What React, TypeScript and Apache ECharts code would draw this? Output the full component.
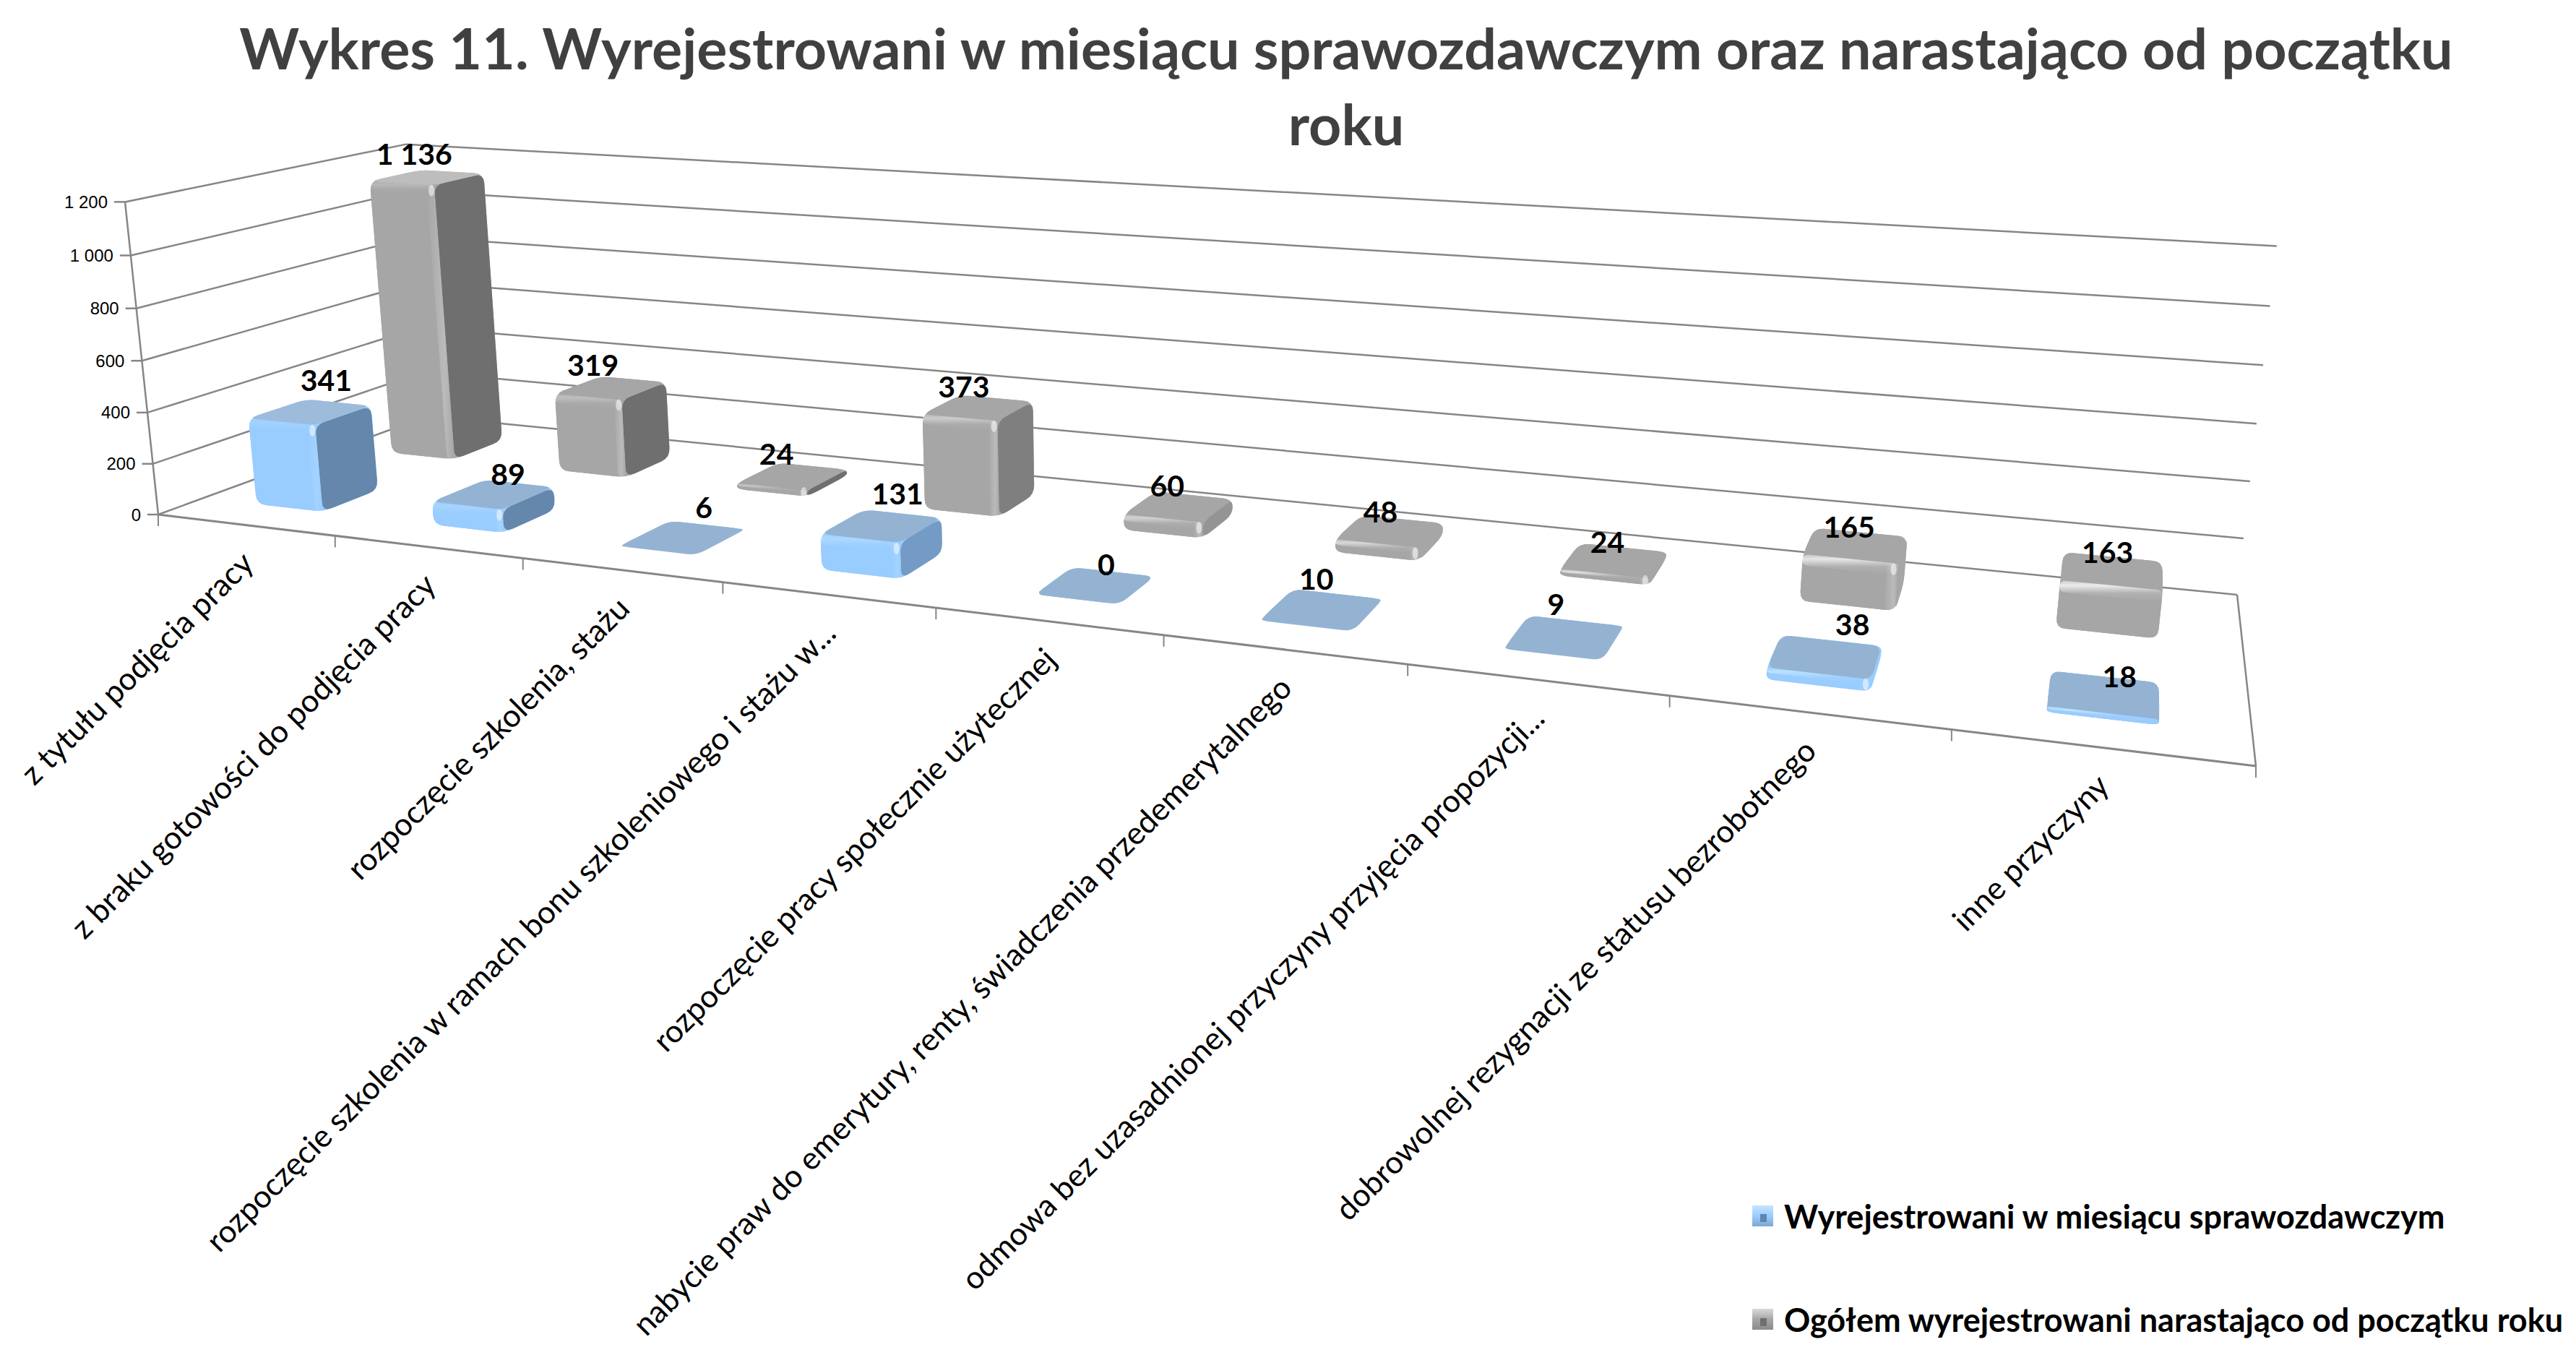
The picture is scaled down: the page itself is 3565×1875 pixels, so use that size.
import React, { useEffect, useRef } from "react";
import * as echarts from "echarts";

const W = 3565;
const H = 1875;

const categories = [
  "z tytułu podjęcia pracy",
  "z braku gotowości do podjęcia pracy",
  "rozpoczęcie szkolenia, stażu",
  "rozpoczęcie szkolenia w ramach bonu szkoleniowego i stażu w...",
  "rozpoczęcie pracy społecznie użytecznej",
  "nabycie praw do emerytury, renty, świadczenia przedemerytalnego",
  "odmowa bez uzasadnionej przyczyny przyjęcia propozycji...",
  "dobrowolnej rezygnacji ze statusu bezrobotnego",
  "inne przyczyny",
];
const monthly = [341, 89, 6, 131, 0, 10, 9, 38, 18];
const cumulative = [1136, 319, 24, 373, 60, 48, 24, 165, 163];
const yTicks = [0, 200, 400, 600, 800, 1000, 1200];
const yTickLabels = ["0", "200", "400", "600", "800", "1 000", "1 200"];
const monthlyName = "Wyrejestrowani w miesiącu sprawozdawczym";
const cumulativeName = "Ogółem wyrejestrowani narastająco od początku roku";
const titleText = "Wykres 11. Wyrejestrowani w miesiącu sprawozdawczym oraz narastająco od początku\nroku";

type Pt = [number, number];
// picture positions of the 3D box corners
const A: Pt = [219, 712];
const B: Pt = [3122, 1060];
const D: Pt = [3096, 823];
const C: Pt = [591, 576];
const E: Pt = [169, 278];
const TBL: Pt = [566, 199];
const TBR: Pt = [3150, 343];

const det = (p: Pt, q: Pt) => p[0] * q[1] - p[1] * q[0];
const sub = (p: Pt, q: Pt): Pt => [p[0] - q[0], p[1] - q[1]];

function makeProjection() {
  const dx1 = sub(B, D);
  const dx2 = sub(C, D);
  const s: Pt = [A[0] - B[0] + D[0] - C[0], A[1] - B[1] + D[1] - C[1]];
  const den = det(dx1, dx2);
  const g = det(s, dx2) / den;
  const h = det(dx1, s) / den;
  const a = B[0] - A[0] + g * B[0];
  const b = C[0] - A[0] + h * C[0];
  const c = A[0];
  const d = B[1] - A[1] + g * B[1];
  const e = C[1] - A[1] + h * C[1];
  const f = A[1];
  // least squares for the height column
  const known: [Pt, number, number][] = [
    [E, 0, 0],
    [TBL, 0, 1],
    [TBR, 1, 1],
  ];
  const M = [
    [0, 0, 0, 0],
    [0, 0, 0, 0],
    [0, 0, 0, 0],
  ];
  const addRow = (r: number[], rhs: number) => {
    for (let i = 0; i < 3; i++) {
      for (let j = 0; j < 3; j++) M[i][j] += r[i] * r[j];
      M[i][3] += r[i] * rhs;
    }
  };
  known.forEach(([p, u, v]) => {
    const w = g * u + h * v + 1;
    addRow([1, 0, -p[0]], p[0] * w - (a * u + b * v + c));
    addRow([0, 1, -p[1]], p[1] * w - (d * u + e * v + f));
  });
  for (let i = 0; i < 3; i++) {
    let piv = i;
    for (let r = i + 1; r < 3; r++) if (Math.abs(M[r][i]) > Math.abs(M[piv][i])) piv = r;
    [M[i], M[piv]] = [M[piv], M[i]];
    for (let r = 0; r < 3; r++) {
      if (r === i) continue;
      const k = M[r][i] / M[i][i];
      for (let col = i; col < 4; col++) M[r][col] -= k * M[i][col];
    }
  }
  const p0 = M[0][3] / M[0][0];
  const p1 = M[1][3] / M[1][1];
  const p2 = M[2][3] / M[2][2];
  return (u: number, y: number, v: number): Pt => {
    const w = g * u + h * v + 1 + p2 * y;
    return [(a * u + b * v + c + p0 * y) / w, (d * u + e * v + f + p1 * y) / w];
  };
}
const project = makeProjection();

function rounded(pts: Pt[], r: number): number[][] {
  const out: number[][] = [];
  const n = pts.length;
  for (let i = 0; i < n; i++) {
    const v = pts[i];
    const pr = pts[(i + n - 1) % n];
    const nx = pts[(i + 1) % n];
    const l1 = Math.hypot(pr[0] - v[0], pr[1] - v[1]) || 1;
    const l2 = Math.hypot(nx[0] - v[0], nx[1] - v[1]) || 1;
    const r1 = Math.min(r, l1 * 0.45);
    const r2 = Math.min(r, l2 * 0.45);
    const s: Pt = [v[0] + ((pr[0] - v[0]) * r1) / l1, v[1] + ((pr[1] - v[1]) * r1) / l1];
    const e: Pt = [v[0] + ((nx[0] - v[0]) * r2) / l2, v[1] + ((nx[1] - v[1]) * r2) / l2];
    for (let k = 0; k <= 4; k++) {
      const t = k / 4;
      const q = 1 - t;
      out.push([q * q * s[0] + 2 * q * t * v[0] + t * t * e[0], q * q * s[1] + 2 * q * t * v[1] + t * t * e[1]]);
    }
  }
  return out;
}

function hull(points: Pt[]): Pt[] {
  const p = [...points].sort((a, b) => a[0] - b[0] || a[1] - b[1]);
  const cross = (o: Pt, a: Pt, b: Pt) => (a[0] - o[0]) * (b[1] - o[1]) - (a[1] - o[1]) * (b[0] - o[0]);
  const lo: Pt[] = [];
  for (const q of p) {
    while (lo.length >= 2 && cross(lo[lo.length - 2], lo[lo.length - 1], q) <= 1e-6) lo.pop();
    lo.push(q);
  }
  const up: Pt[] = [];
  for (const q of [...p].reverse()) {
    while (up.length >= 2 && cross(up[up.length - 2], up[up.length - 1], q) <= 1e-6) up.pop();
    up.push(q);
  }
  return lo.slice(0, -1).concat(up.slice(0, -1));
}

const grad = (x2: number, y2: number, stops: [number, string][]) =>
  new echarts.graphic.LinearGradient(0, 0, x2, y2, stops.map(([offset, color]) => ({ offset, color })));

const poly = (points: number[][], fill: any, z2 = 0) => ({
  type: "polygon",
  shape: { points },
  style: { fill, stroke: "none" },
  z2,
  silent: true,
});

const hexRgb = (h: string) => [1, 3, 5].map((k) => parseInt(h.slice(k, k + 2), 16));
const mix = (p: string, q: string, t: number) => {
  const a = hexRgb(p);
  const b = hexRgb(q);
  return `rgb(${a.map((v, i) => Math.round(v + (b[i] - v) * t)).join(",")})`;
};

type Palette = {
  front: string;
  top: string;
  topFirst: string;
  side: string;
  lightRgb: string;
  labelDx: number[];
  labelDy: number[];
  z0: number;
  z1: number;
};
const bluePalette: Palette = {
  front: "#99CCFF",
  top: "#94B3D3",
  topFirst: "#9DBBDA",
  side: "#6587AC",
  lightRgb: "190,228,255",
  labelDx: [22, 20, 29, 22, 15, -8, -12, 38, 22],
  labelDy: [-45, -29, -41, -45, -29, -41, -45, -45, -25],
  z0: 0.15,
  z1: 0.35,
};
const greyPalette: Palette = {
  front: "#A6A6A6",
  top: "#A6A6A6",
  topFirst: "#BDBDBD",
  side: "#6F6F6F",
  lightRgb: "240,240,240",
  labelDx: [-18, -25, -22, -20, -16, -13, -9, -9, -6],
  labelDy: [-33, -32, -32, -30, -30, -28, -26, -26, -26],
  z0: 0.65,
  z1: 0.85,
};

const barRender = (pal: Palette) => (params: any, api: any) => {
  const cs = params.coordSys;
  const i = api.value(0);
  const val = api.value(1);
  const base = api.coord([i, 0]);
  const tip = api.coord([i, val]);
  const uc = (base[0] - cs.x) / cs.width;
  const catW = api.size([1, 0])[0] / cs.width;
  const yf = (base[1] - tip[1]) / cs.height;
  const x0 = uc - 0.19 * catW;
  const x1 = uc + 0.19 * catW;
  const { z0, z1 } = pal;
  const P = project;
  const fb0 = P(x0, 0, z0), fb1 = P(x1, 0, z0), bb0 = P(x0, 0, z1), bb1 = P(x1, 0, z1);
  const ft0 = P(x0, yf, z0), ft1 = P(x1, yf, z0), bt0 = P(x0, yf, z1), bt1 = P(x1, yf, z1);
  const children: any[] = [];
  const flat = val < 12;
  const r = 13;
  const outline = hull([fb0, fb1, bb0, bb1, ft0, ft1, bt0, bt1]);
  const topColor = i === 0 ? pal.topFirst : pal.top;
  const sideT = Math.max(0, Math.min(1, (uc - 0.3) / 0.3));
  const sideColor = mix(pal.side, pal.front, sideT);
  children.push(poly(rounded(outline, r), val < 25 ? topColor : pal.front));
  if (!flat) {
    if (bb1[0] > fb1[0] + 6) {
      children.push(poly(rounded([fb1, bb1, bt1, ft1], r), sideColor));
    } else if (bb0[0] < fb0[0] - 6) {
      children.push(poly(rounded([bb0, fb0, ft0, bt0], r), grad(1, 0, [[0, mix(pal.front, "#000000", 0.25)], [1, pal.front]])));
    }
    children.push(poly(rounded([fb0, fb1, ft1, ft0], r), pal.front));
  }
  children.push(poly(rounded([ft0, ft1, bt1, bt0], r), topColor));
  if (val >= 12) {
    const band = Math.min(val * 0.45, 40) / 1200;
    const alpha = 0.2 + 0.8 * uc;
    const l0 = P(x0, yf - band, z0), l1 = P(x1, yf - band, z0);
    children.push(
      poly(
        rounded([l0, l1, ft1, ft0], 8),
        grad(0, 1, [
          [0, `rgba(${pal.lightRgb},${alpha * 0.5})`],
          [0.22, `rgba(${pal.lightRgb},${alpha})`],
          [0.6, `rgba(${pal.lightRgb},${alpha * 0.15})`],
          [1, `rgba(${pal.lightRgb},0)`],
        ]),
      ),
    );
    if (bb1[0] > fb1[0] + 6) {
      const bw = 0.12 * (x1 - x0);
      const e0 = P(x1 - bw, 0, z0), e1 = P(x1 - bw, yf, z0);
      children.push(
        poly(
          rounded([e0, fb1, ft1, e1], 6),
          grad(1, 0, [
            [0, `rgba(${pal.lightRgb},0)`],
            [0.65, `rgba(${pal.lightRgb},0.28)`],
            [1, `rgba(${pal.lightRgb},0)`],
          ]),
        ),
      );
      const sp = P(x1 - bw * 0.4, yf - Math.min(band, 22 / 1200), z0);
      children.push({
        type: "ellipse",
        shape: { cx: sp[0], cy: sp[1], rx: 4, ry: 8 },
        style: { fill: "rgba(255,255,255,0.5)" },
        silent: true,
      });
    }
  }
  const a = P(uc, yf, (z0 + z1) / 2);
  children.push({
    type: "text",
    x: a[0] + pal.labelDx[i],
    y: a[1] + pal.labelDy[i],
    z2: 50,
    silent: true,
    style: {
      text: val >= 1000 ? `${Math.floor(val / 1000)} ${String(val % 1000).padStart(3, "0")}` : String(val),
      fontFamily: "Lato",
      fontWeight: "bold",
      fontSize: 41,
      fill: "#000",
      align: "center",
      verticalAlign: "middle",
    },
  });
  return { type: "group", children };
};

const gridColor = "#868686";
const lineEl = (p: Pt, q: Pt, lineWidth = 2.5) => ({
  type: "line",
  shape: { x1: p[0], y1: p[1], x2: q[0], y2: q[1] },
  style: { stroke: gridColor, lineWidth },
  silent: true,
});

const wallRender = (params: any, api: any) => {
  const cs = params.coordSys;
  const tick = api.value(1);
  const base = api.coord([0, 0]);
  const at = api.coord([0, tick]);
  const yf = (base[1] - at[1]) / cs.height;
  const P = project;
  const front = P(0, yf, 0);
  const children: any[] = [
    lineEl(front, P(0, yf, 1)),
    lineEl(P(0, yf, 1), P(1, yf, 1)),
    lineEl(front, [front[0] - 15, front[1]]),
    {
      type: "text",
      x: front[0] - 24,
      y: front[1],
      silent: true,
      style: {
        text: yTickLabels[params.dataIndex],
        fontFamily: "Liberation Sans",
        fontSize: 24,
        fill: "#000",
        align: "right",
        verticalAlign: "middle",
      },
    },
  ];
  if (params.dataIndex === 0) {
    children.push(lineEl(P(0, 0, 0), P(0, 1, 0)), lineEl(P(1, 0, 0), P(1, 0, 1)), lineEl(P(0, 0, 0), P(1, 0, 0), 3));
  }
  return { type: "group", children };
};

const categoryRender = (params: any, api: any) => {
  const cs = params.coordSys;
  const i = api.value(0);
  const c = api.coord([i, 0]);
  const catW = api.size([1, 0])[0] / cs.width;
  const uc = (c[0] - cs.x) / cs.width;
  const P = project;
  const mid = P(uc, 0, 0);
  const t0 = P(uc - catW / 2, 0, 0);
  const children: any[] = [
    lineEl(t0, [t0[0], t0[1] + 16], 2),
    {
      type: "text",
      x: mid[0] + 2,
      y: mid[1] + 44,
      rotation: Math.PI / 4,
      silent: true,
      style: {
        text: categories[i],
        fontFamily: "Lato",
        fontSize: 43.5,
        fill: "#000",
        align: "right",
        verticalAlign: "middle",
      },
    },
  ];
  if (i === categories.length - 1) {
    const t1 = P(1, 0, 0);
    children.push(lineEl(t1, [t1[0], t1[1] + 16], 2));
  }
  return { type: "group", children };
};

const blueSwatch = () => grad(0, 1, [[0, "#C8E4FF"], [0.5, "#99CCFF"], [1, "#7FA7CF"]]);
const greySwatch = () => grad(0, 1, [[0, "#DADADA"], [0.5, "#A6A6A6"], [1, "#8A8A8A"]]);

export default function App() {
  const ref = useRef<HTMLDivElement>(null);
  useEffect(() => {
    const chart = echarts.init(ref.current!, undefined, { renderer: "svg" });
    chart.setOption({
      animation: false,
      backgroundColor: "#fff",
      title: {
        text: titleText,
        left: 1858,
        top: 8,
        textAlign: "center",
        textStyle: { fontFamily: "Lato", fontWeight: "bold", fontSize: 79, lineHeight: 105, color: "#404040" },
      },
      legend: {
        orient: "vertical",
        left: 2425,
        top: 1660,
        itemWidth: 29,
        itemHeight: 29,
        itemGap: 98,
        padding: 0,
        icon: "rect",
        data: [monthlyName, cumulativeName],
        textStyle: { fontFamily: "Lato", fontWeight: "bold", fontSize: 45, color: "#000", padding: [0, 0, 0, 10] },
      },
      graphic: [
        { type: "rect", shape: { x: 2436, y: 1680, width: 9, height: 11 }, style: { fill: "#5E86AE" }, z: 20 },
        { type: "rect", shape: { x: 2436, y: 1824, width: 9, height: 11 }, style: { fill: "#6F6F6F" }, z: 20 },
      ],
      grid: { left: 0, top: 0, width: W, height: H },
      xAxis: { type: "category", data: categories, show: false },
      yAxis: { type: "value", min: 0, max: 1200, interval: 200, show: false },
      series: [
        {
          name: "wall",
          type: "custom",
          z: 1,
          renderItem: wallRender,
          data: yTicks.map((t) => [0, t]),
          encode: { x: 0, y: 1 },
          clip: false,
        },
        {
          name: "categories",
          type: "custom",
          z: 1,
          renderItem: categoryRender,
          data: categories.map((_, i) => [i, 0]),
          encode: { x: 0, y: 1 },
          clip: false,
        },
        {
          name: cumulativeName,
          type: "custom",
          z: 2,
          itemStyle: { color: greySwatch() },
          renderItem: barRender(greyPalette),
          data: cumulative.map((v, i) => [i, v]),
          encode: { x: 0, y: 1 },
          clip: false,
        },
        {
          name: monthlyName,
          type: "custom",
          z: 3,
          itemStyle: { color: blueSwatch() },
          renderItem: barRender(bluePalette),
          data: monthly.map((v, i) => [i, v]),
          encode: { x: 0, y: 1 },
          clip: false,
        },
      ],
    });
    return () => chart.dispose();
  }, []);
  return <div ref={ref} style={{ position: "fixed", left: 0, top: 0, width: W, height: H, background: "#fff" }} />;
}
